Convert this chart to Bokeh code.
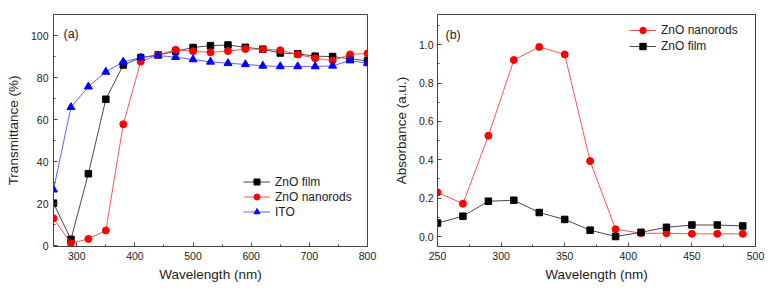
from bokeh.plotting import figure
from bokeh.models import Range1d, Label, Legend, LegendItem, PrintfTickFormatter
from bokeh.layouts import row
from bokeh.embed import file_html
from bokeh.resources import INLINE

# ---- Panel (a): transmittance ----
wl_a = [260, 290, 320, 350, 380, 410, 440, 470, 500, 530, 560, 590, 620, 650, 680, 710, 740, 770, 800]
film_T = [20.3, 3.1, 34.3, 69.7, 86.0, 89.5, 90.8, 92.5, 94.3, 95.2, 95.5, 94.4, 93.5, 91.7, 91.3, 90.2, 90.0, 88.9, 88.0]
rods_T = [13.1, 1.2, 3.3, 7.3, 57.8, 87.6, 90.8, 93.2, 92.5, 92.0, 92.6, 93.6, 93.5, 93.0, 91.0, 89.2, 88.1, 91.0, 91.5]
ito_T = [26.7, 65.9, 75.7, 82.7, 87.5, 89.5, 90.5, 89.7, 88.6, 87.5, 86.8, 86.3, 85.6, 85.3, 85.3, 85.3, 85.6, 88.1, 86.8]

# ---- Panel (b): absorbance ----
wl_b = [250, 270, 290, 310, 330, 350, 370, 390, 410, 430, 450, 470, 490]
rods_A = [0.230, 0.171, 0.525, 0.920, 0.988, 0.949, 0.393, 0.038, 0.017, 0.017, 0.014, 0.014, 0.014]
film_A = [0.070, 0.106, 0.184, 0.189, 0.125, 0.089, 0.033, 0.000, 0.022, 0.048, 0.060, 0.060, 0.055]

FONT = "Liberation Sans"
FRAME = "#444444"
H = 287


def style(p, xlabel, ylabel):
    p.grid.visible = False
    p.outline_line_color = FRAME
    p.outline_line_width = 1
    p.background_fill_color = "white"
    p.border_fill_color = "white"
    for ax in (p.xaxis[0], p.yaxis[0]):
        ax.axis_line_color = FRAME
        ax.major_tick_line_color = FRAME
        ax.minor_tick_line_color = FRAME
        ax.major_tick_in = 4
        ax.major_tick_out = 0
        ax.minor_tick_in = 2
        ax.minor_tick_out = 0
        ax.major_label_text_font = FONT
        ax.major_label_text_font_size = "10.5px"
        ax.major_label_text_color = "#222222"
        ax.axis_label_text_font = FONT
        ax.axis_label_text_font_size = "13.5px"
        ax.axis_label_text_font_style = "normal"
        ax.axis_label_text_color = "#222222"
    p.xaxis[0].axis_label = xlabel
    p.yaxis[0].axis_label = ylabel
    p.xaxis[0].major_label_standoff = 5
    p.xaxis[0].axis_label_standoff = 4
    p.yaxis[0].major_label_standoff = 5
    p.yaxis[0].axis_label_standoff = 7


# Panel (a)
p1 = figure(width=390, height=H, output_backend="svg", toolbar_location=None,
            x_range=Range1d(260, 800), y_range=Range1d(-0.3, 110),
            min_border_left=53, min_border_right=23, min_border_top=14, min_border_bottom=H - 246)
style(p1, "Wavelength (nm)", "Transmittance (%)")
p1.xaxis[0].ticker = [300, 400, 500, 600, 700, 800]
p1.xaxis[0].ticker.minor_ticks = [250, 350, 450, 550, 650, 750]
p1.yaxis[0].ticker = [0, 20, 40, 60, 80, 100]
p1.yaxis[0].ticker.minor_ticks = [10, 30, 50, 70, 90, 110]

l1 = p1.line(wl_a, film_T, line_color="#333333", line_width=0.9)
s1 = p1.scatter(wl_a, film_T, marker="square", size=6.5, fill_color="black", line_color="black")
l2 = p1.line(wl_a, rods_T, line_color="#ff4040", line_width=0.9)
s2 = p1.scatter(wl_a, rods_T, marker="circle", size=7, fill_color="red", line_color="red")
l3 = p1.line(wl_a, ito_T, line_color="#5050ff", line_width=0.9)
s3 = p1.scatter(wl_a, ito_T, marker="triangle", size=8, fill_color="blue", line_color="blue")

leg1 = Legend(items=[LegendItem(label="ZnO film", renderers=[l1, s1]),
                     LegendItem(label="ZnO nanorods", renderers=[l2, s2]),
                     LegendItem(label="ITO", renderers=[l3, s3])],
              location=(190, 27), orientation="vertical")
p1.add_layout(leg1, "center")

p1.add_layout(Label(x=10, y=206, x_units="screen", y_units="screen", text="(a)",
                    text_font=FONT, text_font_size="12.5px", text_color="#222222"))

# Panel (b)
p2 = figure(width=384, height=H, output_backend="svg", toolbar_location=None,
            x_range=Range1d(250, 500), y_range=Range1d(-0.052, 1.157),
            min_border_left=47, min_border_right=19, min_border_top=14, min_border_bottom=H - 249)
style(p2, "Wavelength (nm)", "Absorbance (a.u.)")
p2.xaxis[0].ticker = [250, 300, 350, 400, 450, 500]
p2.xaxis[0].ticker.minor_ticks = [275, 325, 375, 425, 475]
p2.yaxis[0].ticker = [0.0, 0.2, 0.4, 0.6, 0.8, 1.0]
p2.yaxis[0].ticker.minor_ticks = [0.1, 0.3, 0.5, 0.7, 0.9, 1.1]
p2.yaxis[0].formatter = PrintfTickFormatter(format="%.1f")
p2.yaxis[0].major_label_standoff = 4

m1 = p2.line(wl_b, rods_A, line_color="#ff4040", line_width=0.9)
t1 = p2.scatter(wl_b, rods_A, marker="circle", size=7, fill_color="red", line_color="red")
m2 = p2.line(wl_b, film_A, line_color="#333333", line_width=0.9)
t2 = p2.scatter(wl_b, film_A, marker="square", size=6.5, fill_color="black", line_color="black")

leg2 = Legend(items=[LegendItem(label="ZnO nanorods", renderers=[m1, t1]),
                     LegendItem(label="ZnO film", renderers=[m2, t2])],
              location=(192, 192), orientation="vertical")
p2.add_layout(leg2, "center")

p2.add_layout(Label(x=8, y=205, x_units="screen", y_units="screen", text="(b)",
                    text_font=FONT, text_font_size="12.5px", text_color="#222222"))

for lg, gh in ((leg1, 15), (leg2, 16)):
    lg.padding = 0
    lg.margin = 0
    lg.spacing = 0
    lg.border_line_color = None
    lg.background_fill_alpha = 0
    lg.glyph_width = 27
    lg.glyph_height = gh
    lg.label_height = gh
    lg.label_standoff = 5
    lg.label_text_font = FONT
    lg.label_text_font_size = "12px"
    lg.label_text_color = "#222222"

layout = row(p1, p2)
open("out.html", "w").write(file_html(layout, INLINE))
